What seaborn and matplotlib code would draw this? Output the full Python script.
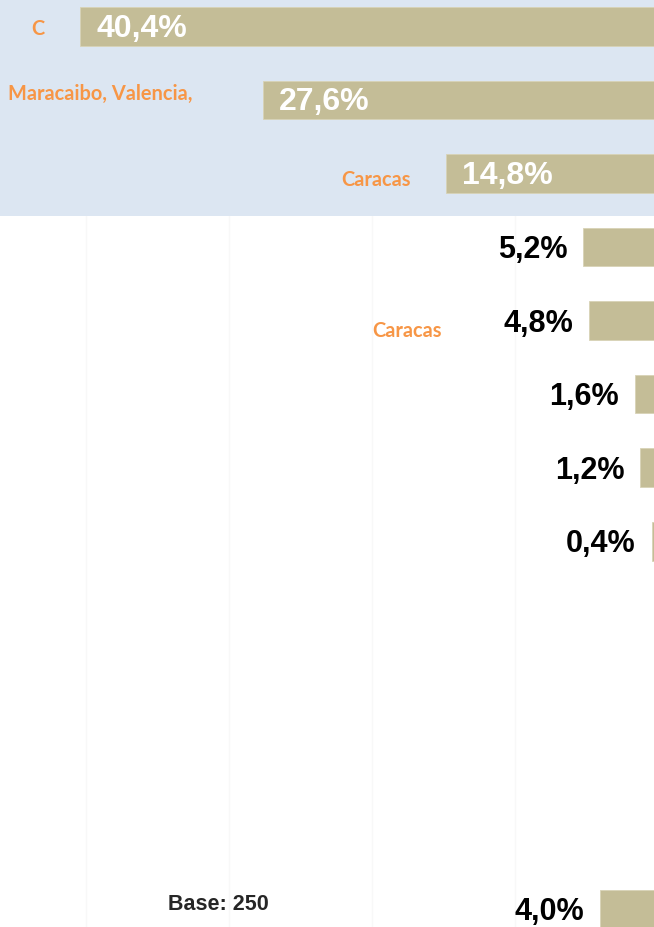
import matplotlib
matplotlib.use("Agg")
import matplotlib.pyplot as plt
import seaborn as sns
import pandas as pd

# values (in %), one per bar, top to bottom
values = [40.4, 27.6, 14.8, 5.2, 4.8, 1.6, 1.2, 0.4, 4.0]
value_labels = ["40,4%", "27,6%", "14,8%", "5,2%", "4,8%", "1,6%", "1,2%", "0,4%", "4,0%"]
# row slot of each bar (rows 8-11 are empty in the chart)
row_index = [0, 1, 2, 3, 4, 5, 6, 7, 12]
# bars whose label sits inside the bar
inside = [True, True, True, False, False, False, False, False, False]

# fragments of category text visible in the crop
cat_texts = ["C", "Maracaibo, Valencia,", "Caracas", "Caracas"]
cat_x = [42.9, 32.5, 17.3, 15.1]
cat_y = [0.03, 0.9, 2.07, 4.13]

base_text = "Base: 250"

BAR = "#C4BD97"
BAND = "#DCE6F2"
ORANGE = "#F79646"

sns.set_theme(style="white")
plt.rcParams["font.family"] = ["Liberation Sans", "DejaVu Sans"]

df = pd.DataFrame({"row": row_index, "value": values})

fig = plt.figure(figsize=(6.54, 9.28), dpi=100)
ax = fig.add_axes([0, 0, 1, 1])

sns.barplot(data=df, x="value", y="row", orient="h", native_scale=True,
            width=0.526, color=BAR, saturation=1, edgecolor="#D8D3B6",
            linewidth=0.6, ax=ax, zorder=2)

ax.set_xlim(46, 0.25)
ax.set_ylim(12.245, -0.371)

# very faint vertical gridlines every 10 points
ax.set_xticks([10, 20, 30, 40])
ax.grid(axis="x", color="#F8F8F8", linewidth=1)
ax.set_axisbelow(True)
ax.axhspan(-1, 2.575, color=BAND, zorder=1, lw=0)

ax.set_xlabel("")
ax.set_ylabel("")
ax.set_yticks([])
ax.tick_params(axis="x", labelbottom=False, length=0)
for s in ax.spines.values():
    s.set_visible(False)

pad = 1.12
for v, lab, r, ins in zip(values, value_labels, row_index, inside):
    if ins:
        ax.text(v - pad, r + 0.02, lab, ha="left", va="center", color="white",
                fontsize=23, fontweight="bold", zorder=3)
    else:
        ax.text(v + pad, r + 0.03, lab, ha="right", va="center", color="black",
                fontsize=22, fontweight="bold", zorder=3)

for t, x, y in zip(cat_texts, cat_x, cat_y):
    ax.text(x, y, t, ha="right", va="center", color=ORANGE, fontsize=14.4,
            fontweight="bold", family=["Lato", "DejaVu Sans"], zorder=3)

ax.text(34.24, 11.93, base_text, ha="left", va="center", color="#262626",
        fontsize=15.5, fontweight="bold", zorder=3)

fig.savefig("out.png", dpi=100)
